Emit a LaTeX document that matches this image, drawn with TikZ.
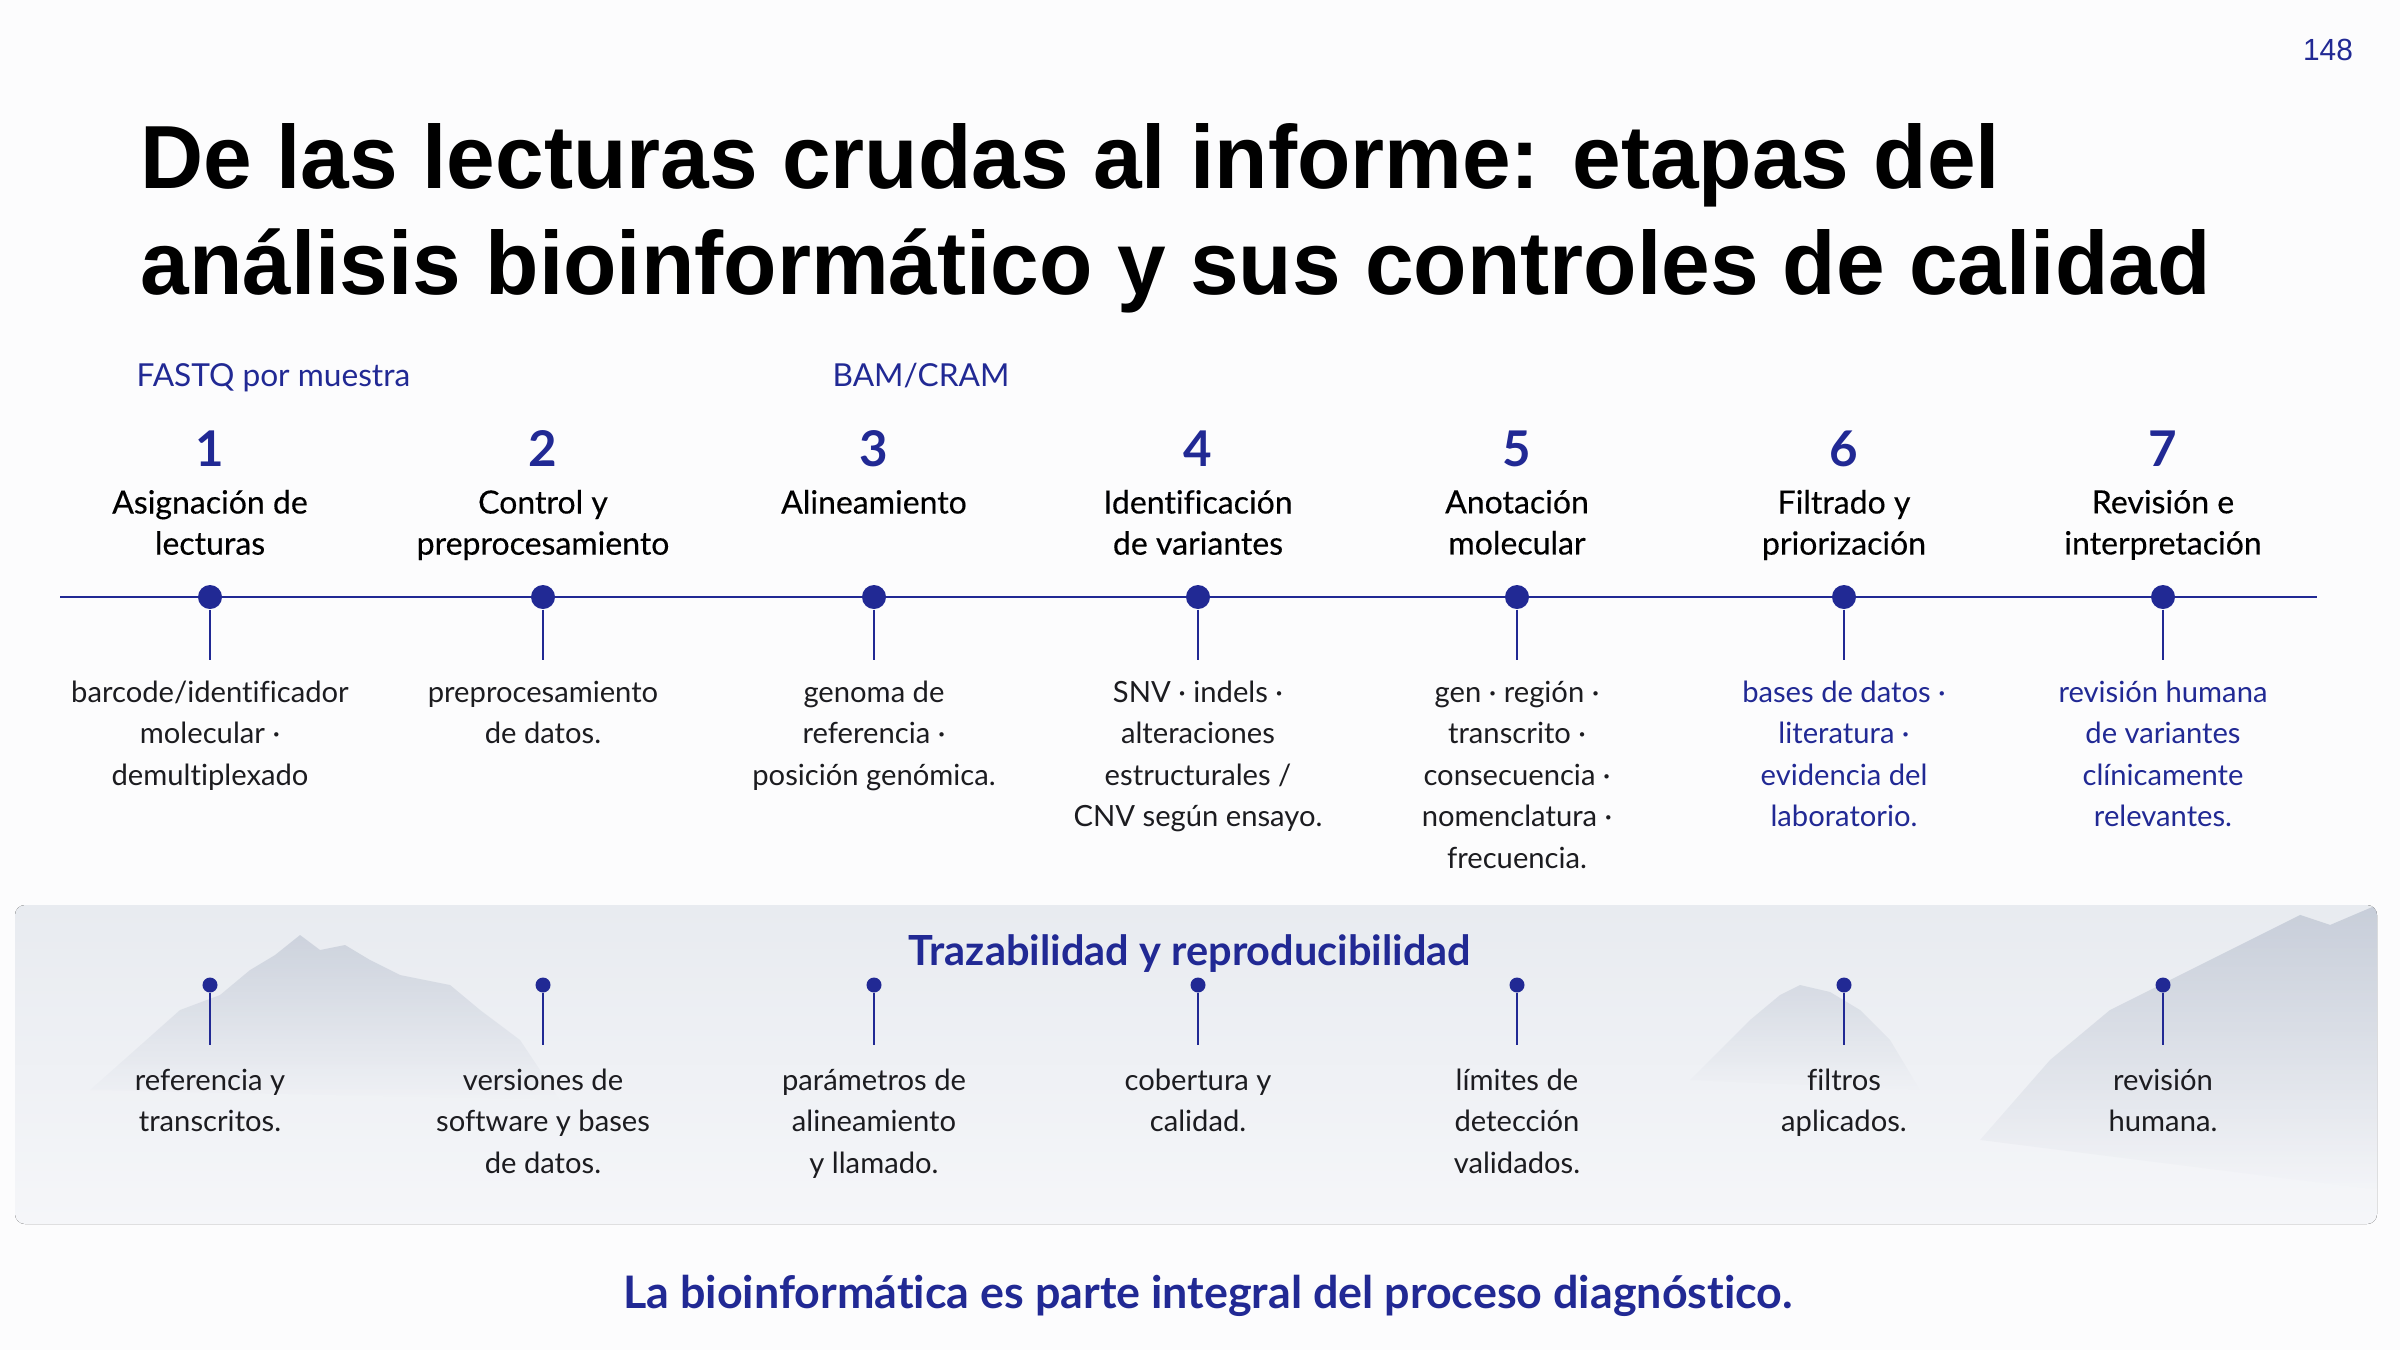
\documentclass[tikz,border=0pt]{standalone}
\usepackage{fontspec}
\setmainfont{Lato}[Ligatures=NoCommon]
\newfontfamily\headfont{Liberation Sans}[FakeStretch=0.975]
\newfontfamily\midfont{Lato}[Ligatures=NoCommon, FakeBold=0.35]
\usepackage{xcolor}
\usetikzlibrary{positioning, fadings}
\definecolor{inkblue}{RGB}{33,41,148}
\definecolor{bodyink}{RGB}{28,28,32}
\definecolor{mist}{RGB}{140,152,176}
\definecolor{panelgray}{RGB}{232,235,240}
\definecolor{panellight}{RGB}{245,246,249}
\definecolor{pagewhite}{RGB}{252,252,253}

\begin{document}
\begin{tikzpicture}[x=0.01cm, y=-0.01cm, every node/.style={font=\normalfont}]
    % Define styles
    \tikzstyle{stagedot} = [circle, fill=inkblue, inner sep=0pt, minimum size=0.24cm]
    \tikzstyle{tracedot} = [circle, fill=inkblue, inner sep=0pt, minimum size=0.15cm]
    \tikzstyle{stagenum} = [font=\fontsize{14}{16}\selectfont\bfseries, text=inkblue, inner sep=0pt]
    \tikzstyle{stagetitle} = [font=\midfont\fontsize{9.1}{11.7}\selectfont, text=black, align=center, inner sep=0pt]
    \tikzstyle{stagedesc} = [font=\fontsize{8.3}{11.8}\selectfont, text=bodyink, align=center, inner sep=0pt]
    \tikzstyle{bluedesc} = [stagedesc, text=inkblue]
    \tikzstyle{toplabel} = [font=\fontsize{9}{10}\selectfont, text=inkblue, inner sep=0pt]
    \tikzstyle{timeline} = [inkblue, line width=0.8pt]
    \tikzstyle{stemline} = [inkblue, line width=0.45pt]

    % Page
    \fill [pagewhite] (0,0) rectangle (2400,1350);
    \useasboundingbox (0,0) rectangle (2400,1350);

    % Heading
    \node (pagenum) [font=\headfont\fontsize{8.7}{10}\selectfont, text=inkblue, anchor=base, inner sep=0pt] at (2328,60) {148};
    \node (title) [font=\headfont\fontsize{25.5}{30}\selectfont\bfseries, align=left, anchor=north west, inner sep=0pt] at (140,123)
        {De las lecturas crudas al informe: etapas del\\análisis bioinformático y sus controles de calidad};

    % Data labels
    \node (fastq) [toplabel, anchor=base west] at (136,386) {FASTQ por muestra};
    \node (bam) [toplabel, anchor=base] at (921,386) {BAM/CRAM};

    % Timeline
    \coordinate (tl_start) at (60,597);
    \coordinate (tl_end) at (2317,597);
    \draw [timeline] (tl_start) -- (tl_end);

    \node (d1) [stagedot] at (210,597) {};
    \node (d2) [stagedot] at (543,597) {};
    \node (d3) [stagedot] at (874,597) {};
    \node (d4) [stagedot] at (1198,597) {};
    \node (d5) [stagedot] at (1517,597) {};
    \node (d6) [stagedot] at (1844,597) {};
    \node (d7) [stagedot] at (2163,597) {};

    % Stage numbers and names
    \node (n1) [stagenum, above=1.17cm of d1] {1};
    \node (n2) [stagenum, above=1.17cm of d2] {2};
    \node (n3) [stagenum, above=1.17cm of d3] {3};
    \node (n4) [stagenum, above=1.17cm of d4] {4};
    \node (n5) [stagenum, above=1.17cm of d5] {5};
    \node (n6) [stagenum, above=1.17cm of d6] {6};
    \node (n7) [stagenum, above=1.17cm of d7] {7};

    \node (t1) [stagetitle, below=0.22cm of n1] {Asignación de\\lecturas};
    \node (t2) [stagetitle, below=0.22cm of n2] {Control y\\preprocesamiento};
    \node (t3) [stagetitle, below=0.22cm of n3] {Alineamiento};
    \node (t4) [stagetitle, below=0.22cm of n4] {Identificación\\de variantes};
    \node (t5) [stagetitle, below=0.22cm of n5] {Anotación\\molecular};
    \node (t6) [stagetitle, below=0.22cm of n6] {Filtrado y\\priorización};
    \node (t7) [stagetitle, below=0.22cm of n7] {Revisión e\\interpretación};

    % Stems and details
    \coordinate (s1) at (210,660);
    \coordinate (s2) at (543,660);
    \coordinate (s3) at (874,660);
    \coordinate (s4) at (1198,660);
    \coordinate (s5) at (1517,660);
    \coordinate (s6) at (1844,660);
    \coordinate (s7) at (2163,660);
    \draw [stemline] (d1) -- (s1);
    \draw [stemline] (d2) -- (s2);
    \draw [stemline] (d3) -- (s3);
    \draw [stemline] (d4) -- (s4);
    \draw [stemline] (d5) -- (s5);
    \draw [stemline] (d6) -- (s6);
    \draw [stemline] (d7) -- (s7);

    \node (x1) [stagedesc, below=0.2cm of s1] {barcode/identificador\\molecular ·\\demultiplexado};
    \node (x2) [stagedesc, below=0.2cm of s2] {preprocesamiento\\de datos.};
    \node (x3) [stagedesc, below=0.2cm of s3] {genoma de\\referencia ·\\posición genómica.};
    \node (x4) [stagedesc, below=0.2cm of s4] {SNV · indels ·\\alteraciones\\estructurales /\\CNV según ensayo.};
    \node (x5) [stagedesc, below=0.2cm of s5] {gen · región ·\\transcrito ·\\consecuencia ·\\nomenclatura ·\\frecuencia.};
    \node (x6) [bluedesc, below=0.2cm of s6] {bases de datos ·\\literatura ·\\evidencia del\\laboratorio.};
    \node (x7) [bluedesc, below=0.2cm of s7] {revisión humana\\de variantes\\clínicamente\\relevantes.};

    % Traceability panel
    \fill [top color=panelgray, bottom color=panellight, rounded corners=0.1cm] (15,905) rectangle (2377,1224);
    \begin{scope}
        \clip [rounded corners=0.1cm] (15,905) rectangle (2377,1224);
        \fill [mist, opacity=0.3, path fading=south] (90,1090) -- (180,1010) -- (220,995) -- (250,970) -- (275,955) -- (300,935) -- (320,950) -- (345,945) -- (370,960) -- (400,975) -- (450,985) -- (480,1010) -- (520,1040) -- (560,1100) -- cycle;
        \fill [mist, opacity=0.22, path fading=south] (1690,1080) -- (1750,1020) -- (1780,995) -- (1800,985) -- (1830,992) -- (1860,1010) -- (1890,1040) -- (1920,1090) -- cycle;
        \fill [mist, opacity=0.35, path fading=south] (1980,1140) -- (2050,1060) -- (2110,1010) -- (2160,985) -- (2220,955) -- (2260,935) -- (2300,915) -- (2330,925) -- (2377,905) -- (2377,1190) -- cycle;
    \end{scope}

    \node (tracetitle) [font=\fontsize{11.8}{13}\selectfont\bfseries, text=inkblue, anchor=base, inner sep=0pt] at (1190,965) {Trazabilidad y reproducibilidad};

    \node (b1) [tracedot] at (210,985) {};
    \node (b2) [tracedot] at (543,985) {};
    \node (b3) [tracedot] at (874,985) {};
    \node (b4) [tracedot] at (1198,985) {};
    \node (b5) [tracedot] at (1517,985) {};
    \node (b6) [tracedot] at (1844,985) {};
    \node (b7) [tracedot] at (2163,985) {};

    \coordinate (bs1) at (210,1045);
    \coordinate (bs2) at (543,1045);
    \coordinate (bs3) at (874,1045);
    \coordinate (bs4) at (1198,1045);
    \coordinate (bs5) at (1517,1045);
    \coordinate (bs6) at (1844,1045);
    \coordinate (bs7) at (2163,1045);
    \draw [stemline] (b1) -- (bs1);
    \draw [stemline] (b2) -- (bs2);
    \draw [stemline] (b3) -- (bs3);
    \draw [stemline] (b4) -- (bs4);
    \draw [stemline] (b5) -- (bs5);
    \draw [stemline] (b6) -- (bs6);
    \draw [stemline] (b7) -- (bs7);

    \node (y1) [stagedesc, below=0.23cm of bs1] {referencia y\\transcritos.};
    \node (y2) [stagedesc, below=0.23cm of bs2] {versiones de\\software y bases\\de datos.};
    \node (y3) [stagedesc, below=0.23cm of bs3] {parámetros de\\alineamiento\\y llamado.};
    \node (y4) [stagedesc, below=0.23cm of bs4] {cobertura y\\calidad.};
    \node (y5) [stagedesc, below=0.23cm of bs5] {límites de\\detección\\validados.};
    \node (y6) [stagedesc, below=0.23cm of bs6] {filtros\\aplicados.};
    \node (y7) [stagedesc, below=0.23cm of bs7] {revisión\\humana.};

    % Closing statement
    \node (closing) [font=\fontsize{12.75}{14}\selectfont\bfseries, text=inkblue, anchor=base, inner sep=0pt] at (1208,1308) {La bioinformática es parte integral del proceso diagnóstico.};
\end{tikzpicture}
\end{document}
